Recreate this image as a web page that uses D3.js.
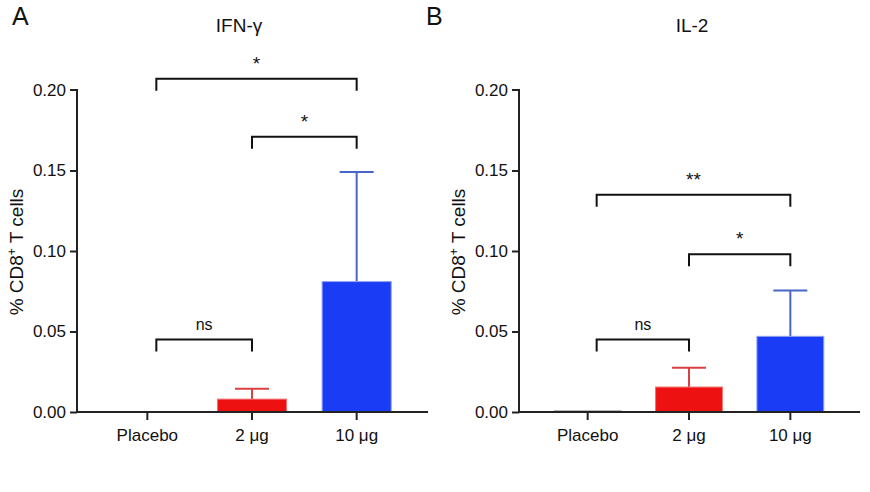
<!DOCTYPE html>
<html><head><meta charset="utf-8">
<script src="https://cdn.jsdelivr.net/npm/d3@7"></script>
<style>body{margin:0;background:#fff;} text{font-family:"Liberation Sans",Arial,sans-serif;}</style>
</head><body>
<svg id="c" width="870" height="492"></svg>
<script>
const categories = ["Placebo", "2 μg", "10 μg"];
const yTicks = [0, 0.05, 0.10, 0.15, 0.20];
const panelLetters = ["A", "B"];
const panelTitles = ["IFN-γ", "IL-2"];
const ifnMeans = [0, 0.008, 0.081];
const ifnErr = [0, 0.0145, 0.149];
const il2Means = [0.0005, 0.0155, 0.047];
const il2Err = [0, 0.0275, 0.0755];
// brackets: [fromIndex, toIndex, yValue, label]
const ifnBrackets = [[0, 2, 0.207, "*"], [1, 2, 0.171, "*"], [0, 1, 0.045, "ns"]];
const il2Brackets = [[0, 2, 0.135, "**"], [1, 2, 0.098, "*"], [0, 1, 0.045, "ns"]];
const barColors = ["#ee1111", "#ee1111", "#1a3cf4"];
const barStroke = ["#f07070", "#f07070", "#8ea2f2"];
const errColors = ["#d94040", "#d94040", "#4866c8"];

const svg = d3.select("#c");
const panels = [
  {ax: 77, axEnd: 428, letterX: 12, titleX: 239, labelX: 23, means: ifnMeans, err: ifnErr, br: ifnBrackets},
  {ax: 519, axEnd: 860, letterX: 426, titleX: 692, labelX: 465, means: il2Means, err: il2Err, br: il2Brackets}
];
const y = d3.scaleLinear().domain([0, 0.2]).range([412, 90]);

panels.forEach((p, i) => {
  const g = svg.append("g");
  const x = d3.scaleBand().domain(categories)
    .range([p.ax + 18, p.axEnd - 19]).paddingInner(0.34).paddingOuter(0.17);
  // letter & title
  g.append("text").attr("x", p.letterX).attr("y", 25).attr("font-size", 25).attr("fill", "#111").text(panelLetters[i]);
  g.append("text").attr("x", p.titleX).attr("y", 32).attr("text-anchor", "middle")
    .attr("font-size", 19).attr("fill", "#111").text(panelTitles[i]);
  // y label
  const yl = g.append("text").attr("transform", `translate(${p.labelX},252) rotate(-90)`)
    .attr("text-anchor", "middle").attr("font-size", 19).attr("fill", "#111");
  yl.append("tspan").text("% CD8");
  yl.append("tspan").attr("font-size", 12).attr("dy", -7).text("+");
  yl.append("tspan").attr("dy", 7).text(" T cells");
  // error bars
  categories.forEach((c, k) => {
    if (p.err[k] <= 0) return;
    const cx = x(c) + x.bandwidth() / 2;
    g.append("line").attr("x1", cx).attr("x2", cx).attr("y1", y(p.means[k])).attr("y2", y(p.err[k]))
      .attr("stroke", errColors[k]).attr("stroke-width", 2);
    g.append("line").attr("x1", cx - 17).attr("x2", cx + 17).attr("y1", y(p.err[k])).attr("y2", y(p.err[k]))
      .attr("stroke", errColors[k]).attr("stroke-width", 2);
  });
  // bars
  g.selectAll("rect.bar").data(categories).enter().append("rect")
    .attr("x", (d) => x(d)).attr("width", x.bandwidth())
    .attr("y", (d, k) => y(p.means[k])).attr("height", (d, k) => y(0) - y(p.means[k]))
    .attr("fill", (d, k) => k === 0 ? "#222" : barColors[k])
    .attr("stroke", (d, k) => k === 0 ? "#222" : barStroke[k]).attr("stroke-width", 1);
  // axes
  const ya = g.append("g").attr("transform", `translate(${p.ax},0)`)
    .call(d3.axisLeft(y).tickValues(yTicks).tickFormat(d3.format(".2f")).tickSize(7).tickPadding(4));
  const xa = g.append("g").attr("transform", `translate(0,${y(0)})`)
    .call(d3.axisBottom(x).tickSize(8).tickPadding(9));
  xa.select(".domain").attr("d", `M${p.ax},0H${p.axEnd}`);
  ya.select(".domain").attr("d", `M-7,${y(0.2)}H0V${y(0)}`);
  [ya, xa].forEach(a => {
    a.selectAll(".domain,line").attr("stroke", "#222").attr("stroke-width", 2);
    a.selectAll("text").attr("font-size", 17).attr("fill", "#111").attr("font-family", "'Liberation Sans',Arial,sans-serif");
  });
  ya.selectAll(".tick").filter(d => d === 0.2).select("line").remove();
  // brackets
  p.br.forEach(([a, b, v, lab]) => {
    const x1 = x(categories[a]) + x.bandwidth() / 2 + (a === 0 ? 9 : 0);
    const x2 = x(categories[b]) + x.bandwidth() / 2;
    const yy = y(v);
    g.append("path").attr("d", `M${x1},${yy + 12}V${yy}H${x2}V${yy + 12}`)
      .attr("fill", "none").attr("stroke", "#111").attr("stroke-width", 2);
    g.append("text").attr("x", (x1 + x2) / 2).attr("y", lab === "ns" ? yy - 10 : yy - 9)
      .attr("text-anchor", "middle").attr("font-size", lab === "ns" ? 16 : 19).attr("fill", "#111").text(lab);
  });
});
</script>
</body></html>
